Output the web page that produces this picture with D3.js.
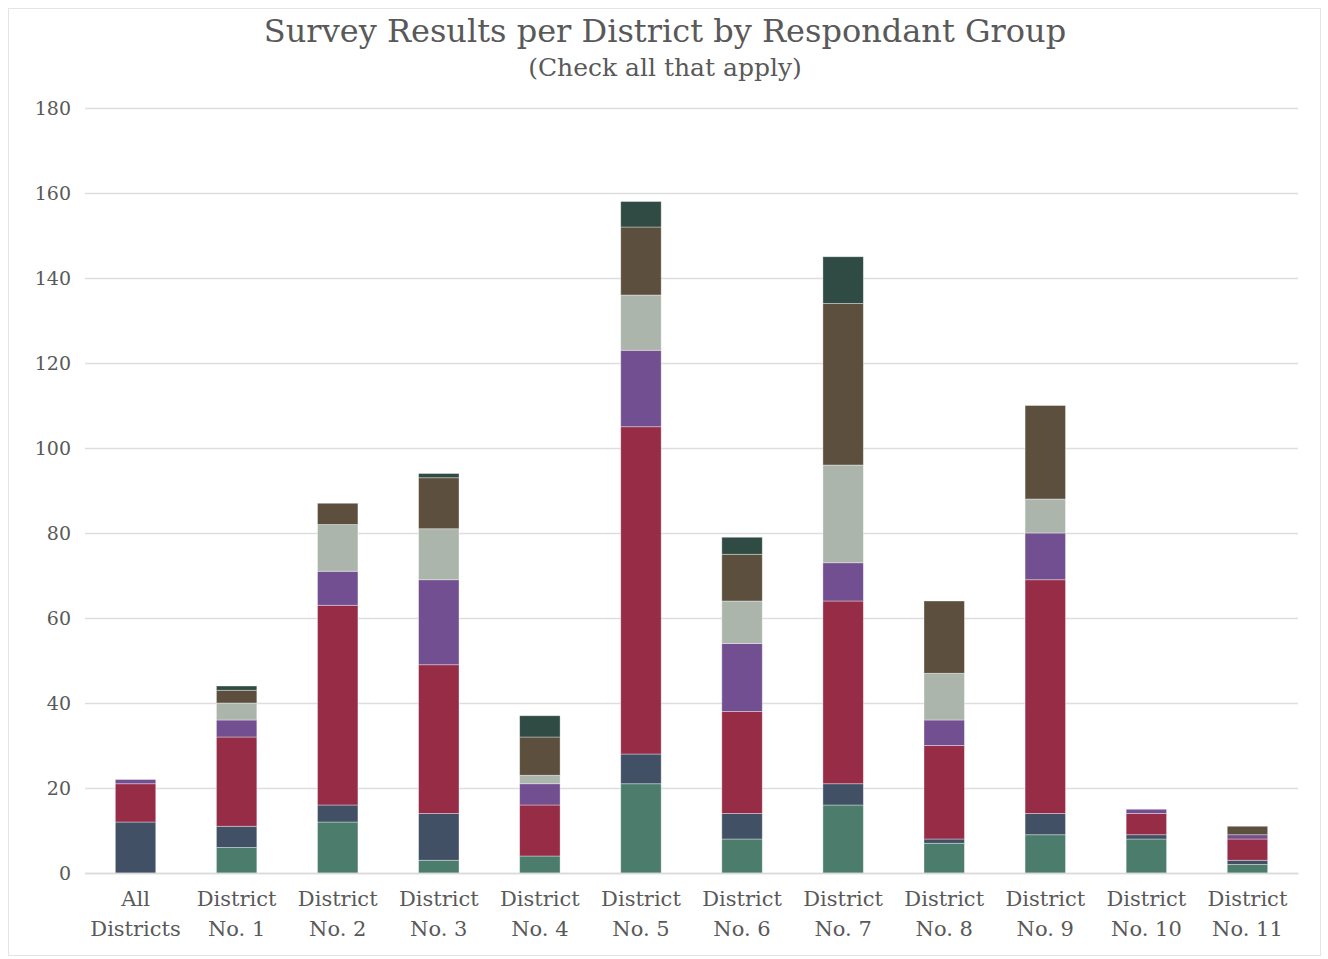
<!DOCTYPE html>
<html>
<head>
<meta charset="utf-8">
<script src="https://cdn.jsdelivr.net/npm/d3@7"></script>
<style>
  html, body { margin: 0; padding: 0; background: #fff; }
  svg { display: block; }
  text { font-family: "DejaVu Serif", "Liberation Serif", serif; fill: #595959; }
</style>
</head>
<body>
<svg id="chart" width="1328" height="959"></svg>
<script>
// Districts along the x axis (label lines)
const categories = [
  ["All", "Districts"],
  ["District", "No. 1"], ["District", "No. 2"], ["District", "No. 3"],
  ["District", "No. 4"], ["District", "No. 5"], ["District", "No. 6"],
  ["District", "No. 7"], ["District", "No. 8"], ["District", "No. 9"],
  ["District", "No. 10"], ["District", "No. 11"]
];

// Respondent groups, stacked bottom to top
const groupA = [0, 6, 12, 3, 4, 21, 8, 16, 7, 9, 8, 2];
const groupB = [12, 5, 4, 11, 0, 7, 6, 5, 1, 5, 1, 1];
const groupC = [9, 21, 47, 35, 12, 77, 24, 43, 22, 55, 5, 5];
const groupD = [1, 4, 8, 20, 5, 18, 16, 9, 6, 11, 1, 1];
const groupE = [0, 4, 11, 12, 2, 13, 10, 23, 11, 8, 0, 0];
const groupF = [0, 3, 5, 12, 9, 16, 11, 38, 17, 22, 0, 2];
const groupG = [0, 1, 0, 1, 5, 6, 4, 11, 0, 0, 0, 0];

const yTicks = [0, 20, 40, 60, 80, 100, 120, 140, 160, 180];

const seriesKeys = ["A", "B", "C", "D", "E", "F", "G"];
const seriesValues = [groupA, groupB, groupC, groupD, groupE, groupF, groupG];
const colors = ["#4b7c6c", "#415064", "#972c46", "#724f90", "#acb5ab", "#5c4f3e", "#2f4b44"];

const rows = categories.map((c, i) => {
  const r = { idx: i };
  seriesKeys.forEach((k, s) => r[k] = seriesValues[s][i]);
  return r;
});

const svg = d3.select("#chart");
const W = 1328, H = 959;
const margin = { left: 85, right: 30, top: 108, bottom: 86 };

// chart frame
svg.append("rect")
  .attr("x", 8.5).attr("y", 8.5)
  .attr("width", W - 16).attr("height", H - 12)
  .attr("fill", "#fff").attr("stroke", "#e4e4e4").attr("stroke-width", 1);

const x = d3.scaleBand()
  .domain(d3.range(categories.length))
  .range([margin.left, W - margin.right])
  .paddingInner(0.6).paddingOuter(0.3);

const y = d3.scaleLinear()
  .domain([0, 180])
  .range([H - margin.bottom, margin.top]);

// gridlines
svg.append("g")
  .selectAll("line")
  .data(yTicks)
  .join("line")
  .attr("x1", margin.left).attr("x2", W - margin.right)
  .attr("y1", d => Math.round(y(d)) + 0.5).attr("y2", d => Math.round(y(d)) + 0.5)
  .attr("stroke", "#dedede").attr("stroke-width", 1.5);

// y axis labels
const yAxis = d3.axisLeft(y).tickValues(yTicks).tickSize(0).tickPadding(14);
const gy = svg.append("g")
  .attr("transform", `translate(${margin.left},0)`)
  .call(yAxis);
gy.select(".domain").remove();
gy.selectAll("text")
  .style("font-family", "'DejaVu Serif', serif")
  .style("font-size", "19px")
  .attr("fill", "#595959");

// stacked bars
const stack = d3.stack().keys(seriesKeys);
const layers = stack(rows);

svg.append("g")
  .selectAll("g")
  .data(layers)
  .join("g")
  .attr("fill", (d, i) => colors[i])
  .selectAll("rect")
  .data(d => d.filter(p => p[1] - p[0] > 0))
  .join("rect")
  .attr("x", d => x(d.data.idx))
  .attr("width", x.bandwidth())
  .attr("y", d => y(d[1]))
  .attr("height", d => y(d[0]) - y(d[1]))
  .attr("stroke", "#ffffff")
  .attr("stroke-opacity", 0.45)
  .attr("stroke-width", 0.8);

// x axis labels
const xAxis = d3.axisBottom(x).tickSize(0).tickFormat(() => "");
const gx = svg.append("g")
  .attr("transform", `translate(0,${y(0)})`)
  .call(xAxis);
gx.select(".domain").attr("stroke", "#d9d9d9").attr("stroke-width", 1.5);

gx.selectAll(".tick").each(function(d) {
  const t = d3.select(this).select("text")
    .attr("y", 0)
    .attr("dy", null)
    .style("font-family", "'DejaVu Serif', serif")
    .style("font-size", "21px")
    .attr("fill", "#595959")
    .text(null);
  categories[d].forEach((line, li) => {
    t.append("tspan")
      .attr("x", 0)
      .attr("y", 33 + li * 30)
      .text(line);
  });
});

// title
svg.append("text")
  .attr("x", 665).attr("y", 42)
  .attr("text-anchor", "middle")
  .style("font-size", "32px")
  .attr("fill", "#595959")
  .text("Survey Results per District by Respondant Group");

svg.append("text")
  .attr("x", 665).attr("y", 76)
  .attr("text-anchor", "middle")
  .style("font-size", "25px")
  .attr("fill", "#595959")
  .text("(Check all that apply)");
</script>
</body>
</html>
